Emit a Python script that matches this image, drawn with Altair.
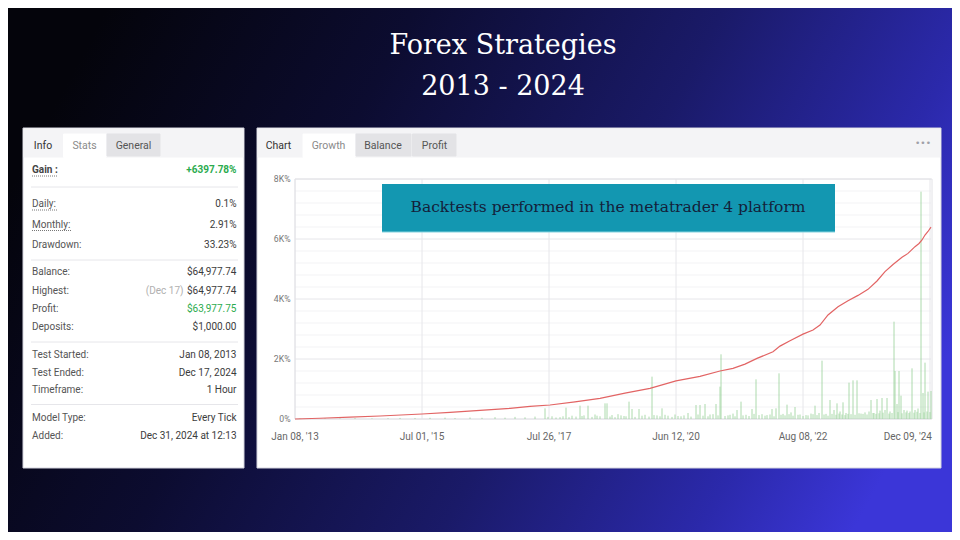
import altair as alt
import pandas as pd

M = 8  # page margin: image pixel -> chart pixel offset

# ---------------- data ----------------
title_lines = ["Forex Strategies", "2013 - 2024"]
banner_text = "Backtests performed in the metatrader 4 platform"

# growth curve on the ordinal (point index) axis
growth_step = [0, 25, 55, 85, 127, 155, 185, 215, 235, 255, 280, 305, 330, 355, 381, 405, 425, 438, 450, 462,
               478, 485, 495, 508, 518, 525, 533, 543, 553, 563, 573, 582, 590, 598, 607, 613, 620, 624, 627, 630,
               633, 636]
growth_pct = [0, 25, 60, 100, 167, 220, 290, 356, 420, 467, 570, 689, 860, 1022, 1270, 1420, 1600, 1690, 1830, 2020,
              2240, 2430, 2610, 2830, 2967, 3130, 3467, 3744, 3944, 4120, 4322, 4600, 4911, 5150, 5389, 5520, 5744,
              5850, 5967, 6133, 6250, 6398]

# green profit spikes (step, value)
profit_bars = [
    (5, 20), (15, 15), (30, 25), (45, 20), (60, 30), (77, 20), (93, 25), (105, 35), (120, 30), (135, 40),
    (150, 45), (160, 30), (175, 50), (187, 40), (200, 60), (210, 45), (220, 70), (230, 55), (240, 80),
    (250, 355), (257, 90), (265, 60), (271, 378), (277, 110), (285, 444), (289, 120), (293, 444), (300, 150),
    (305, 90), (310, 522), (312, 522), (317, 130), (323, 160), (329, 100), (334, 578), (337, 333), (344, 333),
    (350, 140), (357, 1411), (362, 120), (367, 355), (373, 110), (380, 150), (386, 90), (393, 200), (401, 467),
    (405, 467), (410, 500), (415, 150), (421, 500), (425, 1078), (426, 2156), (433, 120), (438, 180), (442, 300),
    (446, 578), (451, 140), (457, 333), (461, 1322), (467, 160), (472, 130), (477, 333), (481, 355), (484, 1522),
    (488, 170), (492, 478), (496, 220), (500, 400), (505, 150), (511, 130), (516, 180), (520, 444), (524, 200),
    (527, 1944), (531, 170), (535, 633), (539, 300), (542, 522), (545, 250), (548, 555), (551, 200), (554, 1211),
    (558, 1289), (562, 1289), (566, 180), (570, 220), (574, 250), (576, 633), (579, 200), (582, 666), (585, 280),
    (587, 700), (590, 300), (592, 700), (595, 250), (599, 3244), (600, 1600), (602, 500), (604, 1600), (606, 778),
    (609, 300), (612, 280), (615, 250), (617, 1689), (620, 300), (623, 350), (626, 7578), (628, 867), (630, 1878),
    (633, 911), (636, 933),
    (253, 70), (261, 50), (268, 90), (274, 60), (281, 80), (287, 100), (297, 70), (302, 110), (315, 80), (320, 60),
    (326, 120), (331, 90), (340, 70), (347, 110), (354, 80), (359, 130), (365, 90), (370, 140), (377, 70),
    (383, 100), (389, 120), (396, 80), (403, 150), (408, 110), (413, 90), (418, 160), (423, 120), (430, 100),
    (435, 140), (440, 90), (448, 120), (454, 100), (459, 170), (464, 130), (470, 110), (475, 150), (479, 90),
    (486, 140), (490, 120), (494, 160), (498, 110), (503, 140), (508, 100), (513, 120), (518, 160), (522, 130),
    (529, 150), (533, 110), (537, 170), (541, 140), (544, 180), (547, 150), (550, 130), (553, 170), (556, 160),
    (560, 140), (564, 190), (568, 170), (572, 150), (578, 200), (581, 170), (584, 190), (588, 210), (594, 180),
    (597, 200), (603, 230), (607, 190), (611, 220), (614, 200), (619, 210), (622, 240), (625, 200), (629, 220),
    (632, 250), (635, 230),
]

x_tick_step = [0, 127, 254, 381, 508, 635]
x_tick_labels = ["Jan 08, '13", "Jul 01, '15", "Jul 26, '17", "Jun 12, '20", "Aug 08, '22", "Dec 09, '24"]
y_tick_values = [0, 2000, 4000, 6000, 8000]
y_tick_labels = ["0%", "2K%", "4K%", "6K%", "8K%"]

left_tabs = ["Info", "Stats", "General"]
right_tabs = ["Chart", "Growth", "Balance", "Profit"]

stat_labels = ["Gain :", "Daily:", "Monthly:", "Drawdown:", "Balance:", "Highest:", "Profit:", "Deposits:",
               "Test Started:", "Test Ended:", "Timeframe:", "Model Type:", "Added:"]
stat_values = ["+6397.78%", "0.1%", "2.91%", "33.23%", "$64,977.74", "$64,977.74", "$63,977.75", "$1,000.00",
               "Jan 08, 2013", "Dec 17, 2024", "1 Hour", "Every Tick", "Dec 31, 2024 at 12:13"]
highest_date = "(Dec 17)"

# ---------------- layout (image pixel coordinates) ----------------
row_y = [170, 204, 224.5, 245, 272, 291, 309, 327, 355, 373, 390, 418, 436]
sep_y = [187, 260, 342, 404.5]
GREEN = "#2bab4e"
value_colors = [GREEN if i in (0, 6) else "#3c3c3c" for i in range(len(stat_values))]

PLOT_L, PLOT_R, PLOT_T, PLOT_B = 295, 931, 179, 419
xs = alt.Scale(domain=[0, 636], range=[PLOT_L - M, PLOT_R - M], nice=False, zero=False)
ys = alt.Scale(domain=[0, 8000], range=[PLOT_B - M, PLOT_T - M], nice=False)

one = pd.DataFrame({"k": [0]})
UI = "Roboto"

# background gradient
bg = alt.Chart(one).mark_rect(
    color=alt.Gradient(
        gradient="linear",
        stops=[alt.GradientStop(color="#04040b", offset=0),
               alt.GradientStop(color="#0c0c30", offset=0.3),
               alt.GradientStop(color="#1a1a68", offset=0.6),
               alt.GradientStop(color="#2b29ab", offset=0.85),
               alt.GradientStop(color="#3b36d8", offset=1)],
        x1=0, x2=1, y1=0.35, y2=0.65)
).encode(x=alt.value(0), x2=alt.value(944), y=alt.value(0), y2=alt.value(524))

rects = [
    # x, x2, y, y2, fill, stroke
    (23, 244, 128, 468, "#ffffff", "#d4d4de"),
    (24, 243, 129, 157, "#f4f4f6", "#f4f4f6"),
    (63.5, 106, 134, 157.5, "#ffffff", "#ffffff"),
    (107, 160, 134, 156, "#e3e3e6", "#e3e3e6"),
    (257, 941, 128, 468, "#ffffff", "#d4d4de"),
    (258, 940, 129, 157, "#f4f4f6", "#f4f4f6"),
    (303, 355, 134, 157.5, "#ffffff", "#ffffff"),
    (356, 411, 134, 156, "#e3e3e6", "#e3e3e6"),
    (412.5, 456, 134, 156, "#e3e3e6", "#e3e3e6"),
]
rdf = pd.DataFrame(rects, columns=["x", "x2", "y", "y2", "fill", "stroke"])
for c in ["x", "x2", "y", "y2"]:
    rdf[c] = rdf[c] - M
panels = alt.Chart(rdf).mark_rect(strokeWidth=1).encode(
    x=alt.X("x:Q", scale=None, axis=None), x2="x2:Q",
    y=alt.Y("y:Q", scale=None, axis=None), y2="y2:Q",
    fill=alt.Fill("fill:N", scale=None), stroke=alt.Stroke("stroke:N", scale=None))

# titles
tdf = pd.DataFrame({"t": title_lines, "py": [46 - M, 87 - M]})
titles = alt.Chart(tdf).mark_text(font="DejaVu Serif", fontSize=27, color="#ffffff", baseline="middle",
                                  align="center").encode(
    x=alt.value(503 - M), y=alt.Y("py:Q", scale=None, axis=None), text="t:N")

# tabs
ltab = pd.DataFrame({"t": left_tabs, "px": [43 - M, 84.5 - M, 133.5 - M],
                     "c": ["#333333", "#8a8a8a", "#555555"]})
rtab = pd.DataFrame({"t": right_tabs, "px": [278.5 - M, 328.5 - M, 383 - M, 434.5 - M],
                     "c": ["#333333", "#8a8a8a", "#555555", "#555555"]})
tabs = [alt.Chart(d).mark_text(font=UI, fontSize=10.5, baseline="middle", align="center").encode(
    x=alt.X("px:Q", scale=None, axis=None), y=alt.value(145.5 - M), text="t:N",
    color=alt.Color("c:N", scale=None)) for d in (ltab, rtab)]
dots = alt.Chart(one).mark_text(text="•••", font="DejaVu Sans", fontSize=9, color="#a0a0a8",
                                baseline="middle", align="center").encode(
    x=alt.value(923 - M), y=alt.value(142.5 - M))

# stats
sdf = pd.DataFrame({"label": stat_labels, "value": stat_values, "py": [v - M for v in row_y],
                    "c": value_colors})
gain_lab = alt.Chart(sdf.iloc[:1]).mark_text(font=UI, fontSize=10, fontWeight="bold", color="#444444",
                                             align="left", baseline="middle").encode(
    x=alt.value(32 - M), y=alt.Y("py:Q", scale=None, axis=None), text="label:N")
other_lab = alt.Chart(sdf.iloc[1:]).mark_text(font=UI, fontSize=10, color="#555555", align="left",
                                              baseline="middle").encode(
    x=alt.value(32 - M), y=alt.Y("py:Q", scale=None, axis=None), text="label:N")
gain_val = alt.Chart(sdf.iloc[:1]).mark_text(font=UI, fontSize=10, fontWeight="bold", align="right",
                                             baseline="middle").encode(
    x=alt.value(236.5 - M), y=alt.Y("py:Q", scale=None, axis=None), text="value:N",
    color=alt.Color("c:N", scale=None))
other_val = alt.Chart(sdf.iloc[1:]).mark_text(font=UI, fontSize=10, align="right", baseline="middle").encode(
    x=alt.value(236.5 - M), y=alt.Y("py:Q", scale=None, axis=None), text="value:N",
    color=alt.Color("c:N", scale=None))
hi_date = alt.Chart(pd.DataFrame({"t": [highest_date]})).mark_text(
    font=UI, fontSize=10, color="#b0b0b0", align="right", baseline="middle").encode(
    x=alt.value(183.5 - M), y=alt.value(row_y[5] - M), text="t:N")

sep = pd.DataFrame({"py": [v - M for v in sep_y]})
seps = alt.Chart(sep).mark_rule(color="#e6e6ea", strokeWidth=1).encode(
    x=alt.value(31 - M), x2=alt.value(238 - M), y=alt.Y("py:Q", scale=None, axis=None))

ul = pd.DataFrame({"x": [32 - M, 32 - M, 32 - M], "x2": [58 - M, 57 - M, 71 - M],
                   "y": [176 - M, 210 - M, 230.5 - M]})
underlines = alt.Chart(ul).mark_rule(color="#777777", strokeWidth=1, strokeDash=[1, 1]).encode(
    x=alt.X("x:Q", scale=None, axis=None), x2="x2:Q", y=alt.Y("y:Q", scale=None, axis=None))

# plot grid
minor_vals = [v for v in range(400, 8000, 400) if v % 2000]
minor = alt.Chart(pd.DataFrame({"v": minor_vals})).mark_rule(color="#f3f3f5", strokeWidth=1).encode(
    y=alt.Y("v:Q", scale=ys, axis=None), x=alt.value(PLOT_L - M), x2=alt.value(PLOT_R - M))
ydf = pd.DataFrame({"v": y_tick_values, "lab": y_tick_labels})
major = alt.Chart(ydf).mark_rule(color="#e6e6ea", strokeWidth=1).encode(
    y=alt.Y("v:Q", scale=ys, axis=None), x=alt.value(PLOT_L - M), x2=alt.value(PLOT_R - M))
xdf = pd.DataFrame({"step": x_tick_step, "lab": x_tick_labels})
vgrid = alt.Chart(xdf).mark_rule(color="#e6e6ea", strokeWidth=1).encode(
    x=alt.X("step:Q", scale=xs, axis=None), y=alt.value(PLOT_T - M), y2=alt.value(PLOT_B - M))
border = alt.Chart(one).mark_rect(fill="transparent", stroke="#e2e2e6", strokeWidth=1).encode(
    x=alt.value(PLOT_L - M), x2=alt.value(PLOT_R + 1 - M), y=alt.value(PLOT_T - M), y2=alt.value(PLOT_B - M))

ylabels = alt.Chart(ydf).mark_text(font=UI, fontSize=8.7, color="#777777", align="right",
                                   baseline="middle").encode(
    y=alt.Y("v:Q", scale=ys, axis=None), x=alt.value(290.5 - M), text="lab:N")
xlab_mid = alt.Chart(xdf.iloc[:-1]).mark_text(font=UI, fontSize=10, color="#666666", align="center",
                                              baseline="middle").encode(
    x=alt.X("step:Q", scale=xs, axis=None), y=alt.value(437 - M), text="lab:N")
xlab_end = alt.Chart(xdf.iloc[-1:]).mark_text(font=UI, fontSize=10, color="#666666", align="right",
                                              baseline="middle", dx=2).encode(
    x=alt.X("step:Q", scale=xs, axis=None), y=alt.value(437 - M), text="lab:N")

# data marks
bdf = pd.DataFrame(profit_bars, columns=["step", "val"])
bars = alt.Chart(bdf).mark_rule(color="#9ed49e", strokeWidth=1, opacity=0.85).encode(
    x=alt.X("step:Q", scale=xs, axis=None),
    y=alt.Y("val:Q", scale=ys, axis=None), y2=alt.datum(0))
gdf = pd.DataFrame({"step": growth_step, "pct": growth_pct})
line = alt.Chart(gdf).mark_line(color="#e26464", strokeWidth=1.2).encode(
    x=alt.X("step:Q", scale=xs, axis=None), y=alt.Y("pct:Q", scale=ys, axis=None))

# banner
banner = alt.Chart(one).mark_rect(fill="#1397b1").encode(
    x=alt.value(382 - M), x2=alt.value(835 - M), y=alt.value(184 - M), y2=alt.value(232 - M))
banner_edge = alt.Chart(one).mark_rule(color="#86d2de", strokeWidth=1).encode(
    x=alt.value(382 - M), x2=alt.value(835 - M), y=alt.value(232 - M))
banner_txt = alt.Chart(pd.DataFrame({"t": [banner_text]})).mark_text(
    font="DejaVu Serif", fontSize=15.5, color="#13213a", align="center", baseline="middle").encode(
    x=alt.value(608 - M), y=alt.value(207 - M), text="t:N")

chart = alt.layer(
    bg, panels, titles, *tabs, dots,
    seps, underlines, gain_lab, other_lab, gain_val, other_val, hi_date,
    minor, major, vgrid, border, bars, line, ylabels, xlab_mid, xlab_end,
    banner, banner_edge, banner_txt,
).resolve_scale(x="independent", y="independent", color="independent", fill="independent",
                stroke="independent").properties(
    width=944, height=524, padding=0, autosize=alt.AutoSizeParams(type="none"),
    background="#0b0b2a",
).configure_view(strokeWidth=0)

chart.save("out.html", embed_options={"renderer": "svg", "actions": False})
